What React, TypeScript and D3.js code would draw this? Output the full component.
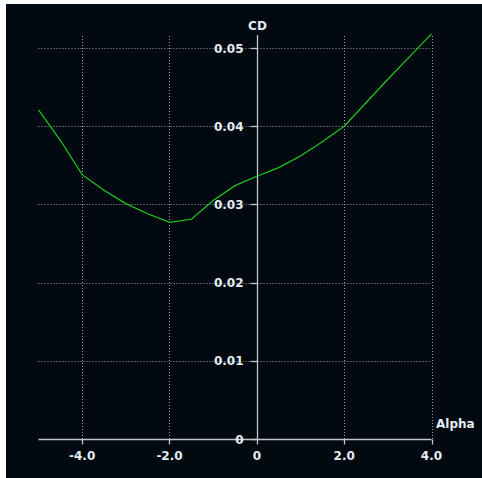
import React from "react";
import * as d3 from "d3";

const alpha = [-5, -4.5, -4, -3.5, -3, -2.5, -2, -1.5, -1, -0.5, 0, 0.5, 1, 1.5, 2, 2.5, 3, 3.5, 4];
const cd = [0.0421, 0.0382, 0.0338, 0.0318, 0.0301, 0.0288, 0.0277, 0.0281, 0.0305, 0.0324, 0.0336, 0.0347, 0.0362, 0.038, 0.04, 0.043, 0.046, 0.0489, 0.0518];
const xTicks = [-4, -2, 0, 2, 4];
const xTickLabels = ["-4.0", "-2.0", "0", "2.0", "4.0"];
const yTicks = [0, 0.01, 0.02, 0.03, 0.04, 0.05];
const yTickLabels = ["0", "0.01", "0.02", "0.03", "0.04", "0.05"];

export default function App() {
  const W = 482, H = 478;
  const x = d3.scaleLinear().domain([-5, 4]).range([38.5, 431.5]);
  const y = d3.scaleLinear().domain([0, 0.05]).range([439, 48]);
  const line = d3.line<number>().x((_, i) => x(alpha[i])).y((d) => y(d));
  const font = "'DejaVu Sans', Verdana, sans-serif";
  const txt = "#e4ecf4";
  const x0 = Math.round(x(0)) + 0.5;
  const y0 = Math.round(y(0)) + 0.5;
  return (
    <svg width={W} height={H} style={{ position: "absolute", left: 0, top: 0, display: "block" }}>
      <rect x={0} y={0} width={W} height={H} fill="#ffffff" />
      <rect x={6} y={4} width={476} height={474} fill="#020910" />
      {/* grid */}
      {yTicks.filter((t) => t !== 0).map((t) => (
        <line key={"gy" + t} x1={x(-5)} x2={x(4)} y1={Math.round(y(t)) + 0.5} y2={Math.round(y(t)) + 0.5}
          stroke="#9a9fa4" strokeWidth={1} strokeDasharray="1,2" />
      ))}
      {xTicks.filter((t) => t !== 0).map((t) => (
        <line key={"gx" + t} x1={Math.round(x(t)) + 0.5} x2={Math.round(x(t)) + 0.5} y1={36} y2={y0}
          stroke="#9a9fa4" strokeWidth={1} strokeDasharray="1,2" />
      ))}
      {/* axes */}
      <line x1={x(-5)} x2={x(4)} y1={y0} y2={y0} stroke="#c4c8cc" strokeWidth={1.3} />
      <line x1={x0} x2={x0} y1={35} y2={y0} stroke="#c4c8cc" strokeWidth={1.3} />
      {xTicks.map((t) => (
        <line key={"tx" + t} x1={Math.round(x(t)) + 0.5} x2={Math.round(x(t)) + 0.5} y1={y0} y2={y0 + 5}
          stroke="#c4c8cc" strokeWidth={1.3} />
      ))}
      {yTicks.map((t) => (
        <line key={"ty" + t} x1={x0 - 7} x2={x0} y1={Math.round(y(t)) + 0.5} y2={Math.round(y(t)) + 0.5}
          stroke="#c4c8cc" strokeWidth={1.3} />
      ))}
      {/* labels */}
      {xTicks.map((t, i) => (
        <text key={"lx" + t} x={x(t)} y={y0 + 20} textAnchor="middle" fill={txt}
          fontFamily={font} fontSize={12} fontWeight="bold">{xTickLabels[i]}</text>
      ))}
      {yTicks.map((t, i) => (
        <text key={"ly" + t} x={x0 - 14} y={y(t) + 4.5} textAnchor="end" fill={txt}
          fontFamily={font} fontSize={12} fontWeight="bold">{yTickLabels[i]}</text>
      ))}
      <text x={x0} y={30} textAnchor="middle" fill={txt} fontFamily={font} fontSize={12} fontWeight="bold">CD</text>
      <text x={436} y={428} textAnchor="start" fill={txt} fontFamily={font} fontSize={12} fontWeight="bold">Alpha</text>
      {/* data */}
      <path d={line(cd) || ""} fill="none" stroke="#1fc81f" strokeWidth={1.2} />
    </svg>
  );
}
